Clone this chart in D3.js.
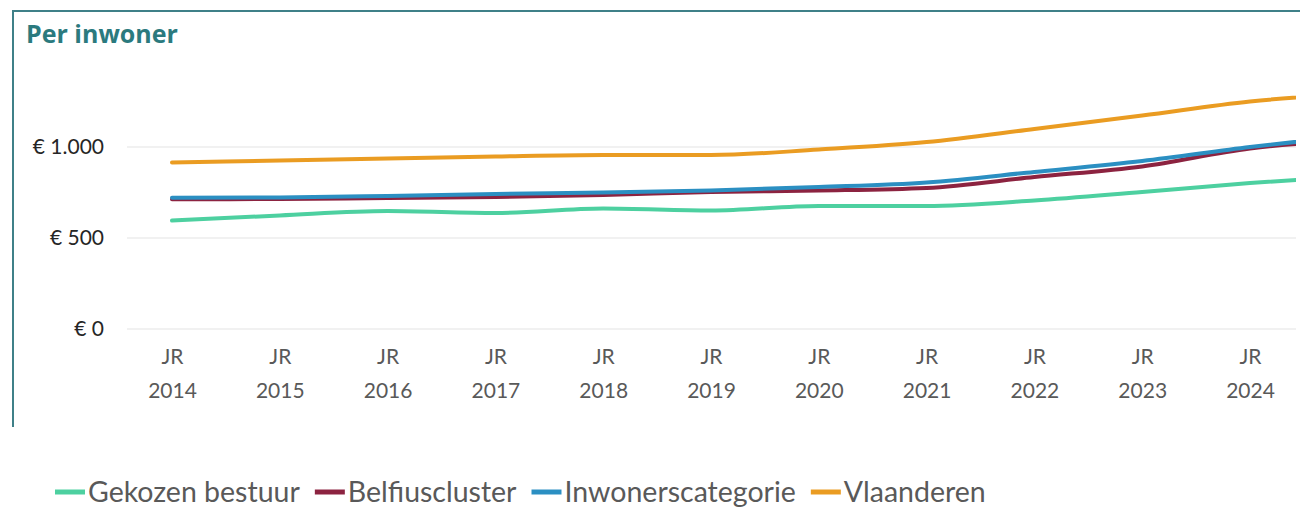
<!DOCTYPE html>
<html>
<head>
<meta charset="utf-8">
<script src="https://cdn.jsdelivr.net/npm/d3@7"></script>
<style>
  body { margin: 0; background: #fff; }
  svg { display: block; font-family: Lato, "Open Sans", sans-serif; }
  .grid line { stroke: #ececec; stroke-width: 1.5; }
  .axis-x text { fill: #595959; font-size: 21px; font-family: Lato, sans-serif; }
  .axis-y text { fill: #262626; font-size: 21px; font-family: Lato, sans-serif; }
  .legend text { fill: #595959; font-size: 28.5px; }
</style>
</head>
<body>
<div id="chart"></div>
<script>
// years on the x axis (2025 runs past the cropped right edge)
const years = [2014, 2015, 2016, 2017, 2018, 2019, 2020, 2021, 2022, 2023, 2024, 2025];
const shownYears = [2014, 2015, 2016, 2017, 2018, 2019, 2020, 2021, 2022, 2023, 2024];
const yTicks = [0, 500, 1000];

const gekozenBestuur    = [596, 624, 648, 637, 662, 651, 676, 676, 706, 753, 802, 841];
const belfiuscluster    = [713, 714, 720, 725, 736, 753, 761, 775, 835, 893, 992, 1038];
const inwonerscategorie = [721, 723, 731, 742, 750, 761, 780, 805, 863, 923, 1000, 1066];
const vlaanderen        = [915, 926, 937, 948, 956, 956, 986, 1027, 1099, 1173, 1250, 1297];

const seriesNames = ['Gekozen bestuur', 'Belfiuscluster', 'Inwonerscategorie', 'Vlaanderen'];
const seriesValues = [gekozenBestuur, belfiuscluster, inwonerscategorie, vlaanderen];
const seriesColors = ['#4dd0a0', '#8c2340', '#2b8fc2', '#ea9c22'];

const width = 1300, height = 508;

const svg = d3.select('#chart').append('svg')
    .attr('width', width)
    .attr('height', height);

// frame: left + top border of the card
svg.append('path')
    .attr('d', 'M13,427 L13,11 L1300,11')
    .attr('fill', 'none')
    .attr('stroke', '#3f8088')
    .attr('stroke-width', 2);

svg.append('text')
    .text('Per inwoner')
    .attr('x', 26)
    .attr('y', 43)
    .attr('fill', '#2b7a7e')
    .attr('font-family', '"Open Sans", sans-serif')
    .attr('font-size', 25)
    .attr('font-weight', 'bold');

const x = d3.scalePoint().domain(years).range([172, 172 + 107.8 * (years.length - 1)]);
const y = d3.scaleLinear().domain([0, 1500]).range([329, 56]);

const euro = d3.formatLocale({decimal: ',', thousands: '.', grouping: [3], currency: ['€ ', '']}).format('$,.0f');

svg.append('defs').append('clipPath').attr('id', 'plotclip')
    .append('rect').attr('x', 0).attr('y', 0).attr('width', 1296).attr('height', height);

const plot = svg.append('g').attr('clip-path', 'url(#plotclip)');

// gridlines
plot.append('g').attr('class', 'grid')
    .selectAll('line')
    .data(yTicks)
    .enter()
    .append('line')
    .attr('x1', 127)
    .attr('x2', 1300)
    .attr('y1', d => y(d))
    .attr('y2', d => y(d));

// y axis labels
const yAxis = svg.append('g').attr('class', 'axis-y')
    .attr('transform', 'translate(108,0)')
    .call(d3.axisLeft(y).tickValues(yTicks).tickSize(0).tickPadding(4).tickFormat(euro));
yAxis.select('.domain').remove();

// x axis labels, two lines each
const xAxis = svg.append('g').attr('class', 'axis-x')
    .attr('transform', 'translate(0,' + y(0) + ')')
    .call(d3.axisBottom(x).tickValues(shownYears).tickSize(0).tickFormat(''));
xAxis.select('.domain').remove();
xAxis.selectAll('.tick text')
    .attr('y', 0)
    .attr('dy', null)
    .each(function(d) {
        const t = d3.select(this);
        t.append('tspan').attr('x', 0).attr('y', 35).text('JR');
        t.append('tspan').attr('x', 0).attr('y', 69).text(d);
    });

// lines
const line = d3.line()
    .x((d, i) => x(years[i]))
    .y(d => y(d))
    .curve(d3.curveMonotoneX);

plot.append('g').selectAll('path.series')
    .data(seriesValues)
    .enter()
    .append('path')
    .attr('class', 'series')
    .attr('d', d => line(d))
    .attr('fill', 'none')
    .attr('stroke', (d, i) => seriesColors[i])
    .attr('stroke-width', 4)
    .attr('stroke-linecap', 'round');

// legend
const legend = svg.append('g').attr('class', 'legend');
let lx = 55;
seriesNames.forEach((name, i) => {
    legend.append('line')
        .attr('x1', lx).attr('x2', lx + 30)
        .attr('y1', 492).attr('y2', 492)
        .attr('stroke', seriesColors[i])
        .attr('stroke-width', 5);
    const t = legend.append('text')
        .text(name)
        .attr('x', lx + 33)
        .attr('y', 491)
        .attr('dominant-baseline', 'central');
    lx += 33 + t.node().getComputedTextLength() + 15;
});
</script>
</body>
</html>
